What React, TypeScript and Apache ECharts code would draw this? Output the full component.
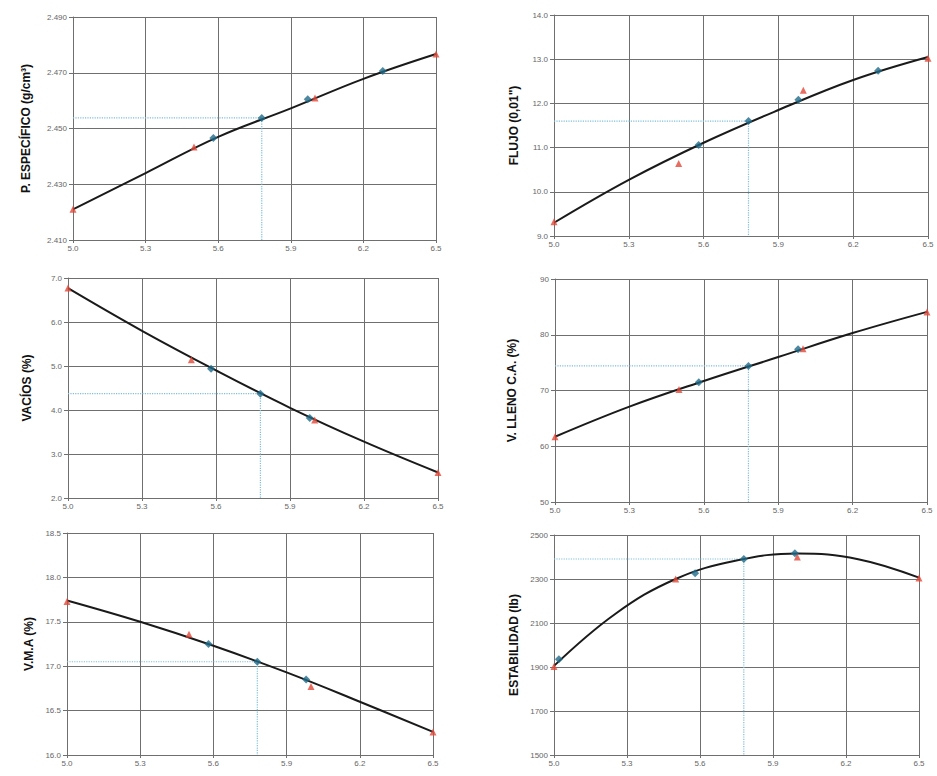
import React, { useEffect, useRef } from "react";
import * as echarts from "echarts";

// Common x values (% asfalto)
const expX = [5.0, 5.5, 6.0, 6.5];
const optX = 5.78;

// P. ESPECÍFICO
const peExp = [2.421, 2.4434, 2.4609, 2.4767];
const peCalcX = [5.58, 5.78, 5.97, 6.28];
const peCalc = [2.4466, 2.4538, 2.4605, 2.4706];
const peCurveX = [5.0, 5.3, 5.6, 5.9, 6.2, 6.5];
const peCurve = [2.421, 2.434, 2.447, 2.4572, 2.4678, 2.4767];
const peOpt = 2.4538;

// FLUJO
const flExp = [9.32, 10.64, 12.3, 13.02];
const flCalcX = [5.58, 5.78, 5.98, 6.3];
const flCalc = [11.06, 11.6, 12.08, 12.74];
const flCurveX = [5.0, 5.3, 5.6, 5.9, 6.2, 6.5];
const flCurve = [9.3, 10.27, 11.11, 11.85, 12.53, 13.05];
const flOpt = 11.6;

// VACÍOS
const vaExp = [6.77, 5.14, 3.77, 2.58];
const vaCalcX = [5.58, 5.78, 5.98];
const vaCalc = [4.94, 4.37, 3.82];
const vaCurveX = [5.0, 5.3, 5.6, 5.9, 6.2, 6.5];
const vaCurve = [6.77, 5.8, 4.9, 4.05, 3.28, 2.58];
const vaOpt = 4.37;

// V. LLENO C.A.
const vlExp = [61.7, 70.2, 77.5, 84.1];
const vlCalcX = [5.58, 5.78, 5.98];
const vlCalc = [71.5, 74.4, 77.4];
const vlCurveX = [5.0, 5.3, 5.6, 5.9, 6.2, 6.5];
const vlCurve = [61.7, 67.1, 71.7, 76.0, 80.3, 84.1];
const vlOpt = 74.4;

// V.M.A
const vmExp = [17.73, 17.36, 16.77, 16.26];
const vmCalcX = [5.58, 5.78, 5.98];
const vmCalc = [17.25, 17.05, 16.85];
const vmCurveX = [5.0, 5.3, 5.6, 5.9, 6.2, 6.5];
const vmCurve = [17.74, 17.5, 17.23, 16.93, 16.6, 16.26];
const vmOpt = 17.05;

// ESTABILIDAD
const esExp = [1902, 2300, 2400, 2304];
const esCalcX = [5.02, 5.58, 5.78, 5.99];
const esCalc = [1935, 2326, 2391, 2417];
const esCurveX = [5.0, 5.25, 5.5, 5.75, 6.0, 6.25, 6.5];
const esCurve = [1905, 2140, 2300, 2384, 2416, 2390, 2306];
const esOpt = 2391;

const panels = [
  { name: "P. ESPECÍFICO (g/cm³)", exp: peExp, calcX: peCalcX, calc: peCalc, curveX: peCurveX, curve: peCurve, opt: peOpt, min: 2.41, max: 2.49, interval: 0.02, dec: 3, grid: [73, 17, 363, 223], gap: 41 },
  { name: "FLUJO (0,01\")", exp: flExp, calcX: flCalcX, calc: flCalc, curveX: flCurveX, curve: flCurve, opt: flOpt, min: 9, max: 14, interval: 1, dec: 1, grid: [554, 15, 374, 221], gap: 34 },
  { name: "VACÍOS (%)", exp: vaExp, calcX: vaCalcX, calc: vaCalc, curveX: vaCurveX, curve: vaCurve, opt: vaOpt, min: 2, max: 7, interval: 1, dec: 1, grid: [68, 278, 370, 220], gap: 35 },
  { name: "V. LLENO C.A. (%)", exp: vlExp, calcX: vlCalcX, calc: vlCalc, curveX: vlCurveX, curve: vlCurve, opt: vlOpt, min: 50, max: 90, interval: 10, dec: 0, grid: [555, 279, 372, 223], gap: 37 },
  { name: "V.M.A (%)", exp: vmExp, calcX: vmCalcX, calc: vmCalc, curveX: vmCurveX, curve: vmCurve, opt: vmOpt, min: 16, max: 18.5, interval: 0.5, dec: 1, grid: [67, 533, 366, 222], gap: 32 },
  { name: "ESTABILIDAD (lb)", exp: esExp, calcX: esCalcX, calc: esCalc, curveX: esCurveX, curve: esCurve, opt: esOpt, min: 1500, max: 2500, interval: 200, dec: 0, grid: [554, 535, 365, 220], gap: 34 },
];

const FONT = "Liberation Sans, Arial, sans-serif";
const GRID_COLOR = "#6f6f6f";
const LABEL_COLOR = "#666";

export default function App() {
  const ref = useRef<HTMLDivElement>(null);
  useEffect(() => {
    if (!ref.current) return;
    const chart = echarts.init(ref.current, undefined, { renderer: "svg" });
    const grid: any[] = [];
    const xAxis: any[] = [];
    const yAxis: any[] = [];
    const series: any[] = [];
    panels.forEach((p, i) => {
      grid.push({ left: p.grid[0], top: p.grid[1], width: p.grid[2], height: p.grid[3], containLabel: false });
      xAxis.push({
        type: "value", gridIndex: i, min: 5.0, max: 6.5, interval: 0.3,
        axisLine: { show: true, lineStyle: { color: GRID_COLOR, width: 1 } },
        axisTick: { show: true, length: 3, lineStyle: { color: GRID_COLOR } },
        splitLine: { show: true, lineStyle: { color: GRID_COLOR, width: 1 } },
        axisLabel: { color: LABEL_COLOR, fontSize: 8, fontFamily: FONT, margin: 4, formatter: (v: number) => v.toFixed(1) },
      });
      yAxis.push({
        type: "value", gridIndex: i, min: p.min, max: p.max, interval: p.interval,
        name: p.name, nameLocation: "middle", nameGap: p.gap,
        nameTextStyle: { color: "#111", fontSize: 12, fontWeight: "bold", fontFamily: FONT },
        axisLine: { show: true, lineStyle: { color: GRID_COLOR, width: 1 } },
        axisTick: { show: true, length: 4, lineStyle: { color: GRID_COLOR } },
        splitLine: { show: true, lineStyle: { color: GRID_COLOR, width: 1 } },
        axisLabel: { color: LABEL_COLOR, fontSize: 8, fontFamily: FONT, margin: 6, formatter: (v: number) => v.toFixed(p.dec) },
      });
      // optimum reference (dotted)
      series.push({
        type: "line", xAxisIndex: i, yAxisIndex: i, symbol: "none", silent: true,
        data: [[5.0, p.opt], [optX, p.opt], [optX, p.min]],
        lineStyle: { color: "#7fbfdc", width: 1.2, type: "dotted" }, z: 2,
      });
      // fitted curve
      series.push({
        type: "line", xAxisIndex: i, yAxisIndex: i, symbol: "none", smooth: 0.4,
        data: p.curveX.map((x, k) => [x, p.curve[k]]),
        lineStyle: { color: "#1a1a1a", width: 2 }, z: 3,
      });
      // experimental points
      series.push({
        type: "scatter", xAxisIndex: i, yAxisIndex: i, symbol: "triangle", symbolSize: 7,
        data: expX.map((x, k) => [x, p.exp[k]]),
        itemStyle: { color: "#e2483a" }, z: 4,
      });
      // calculated points
      series.push({
        type: "scatter", xAxisIndex: i, yAxisIndex: i, symbol: "diamond", symbolSize: 8,
        data: p.calcX.map((x, k) => [x, p.calc[k]]),
        itemStyle: { color: "#1f6a88" }, z: 5,
      });
    });
    chart.setOption({
      animation: false,
      backgroundColor: "#ffffff",
      grid, xAxis, yAxis, series,
    });
    return () => chart.dispose();
  }, []);
  return <div ref={ref} style={{ position: "absolute", left: 0, top: 0, width: 937, height: 776 }} />;
}
